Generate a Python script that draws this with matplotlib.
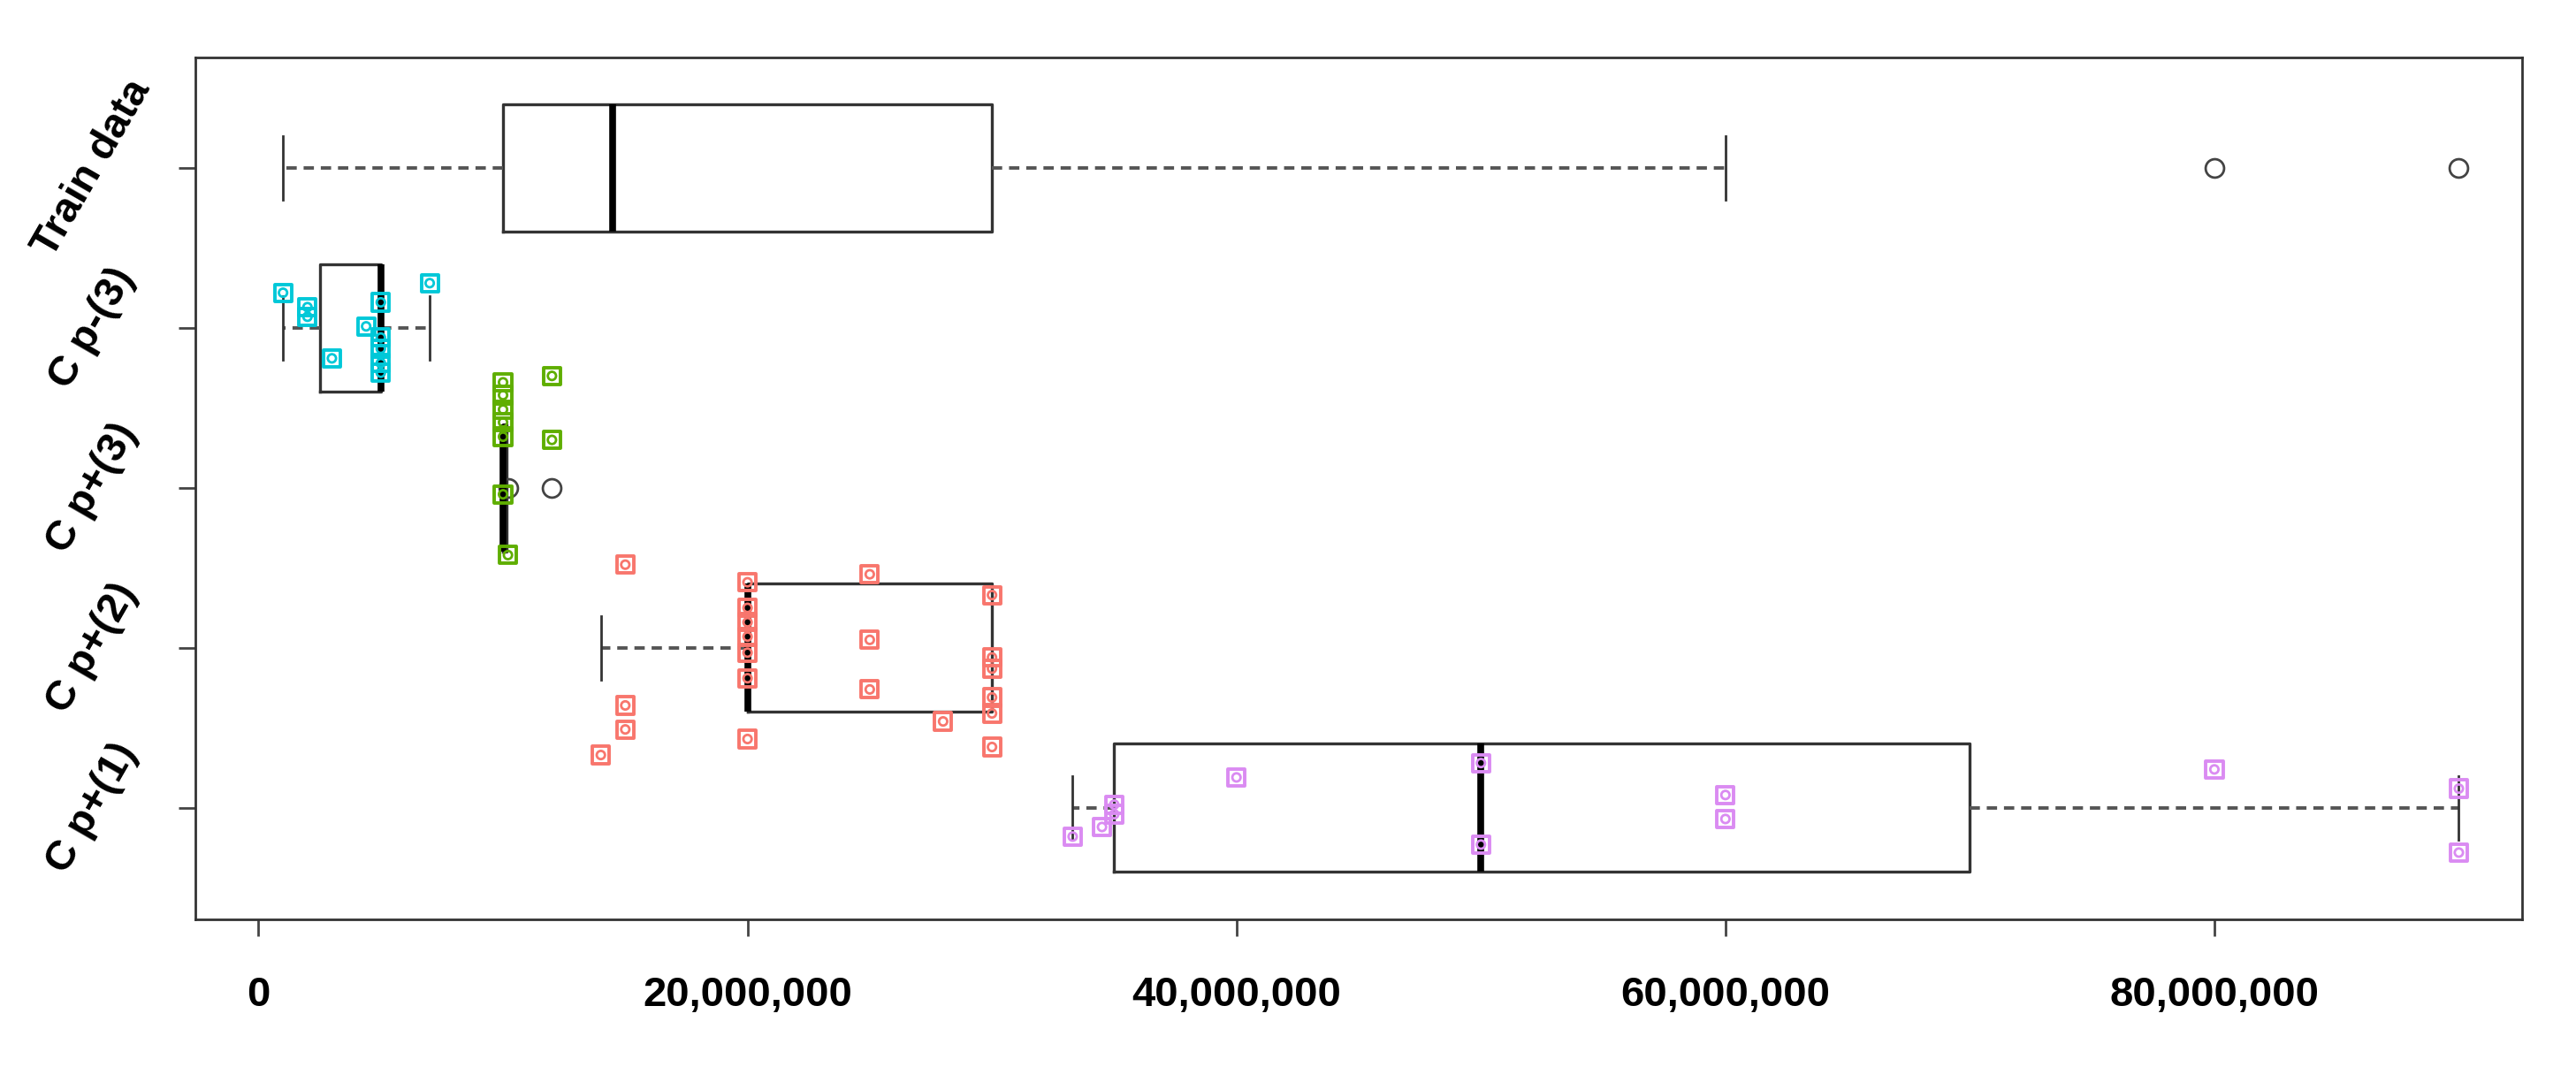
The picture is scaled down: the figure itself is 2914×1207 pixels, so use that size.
import matplotlib
matplotlib.use("Agg")
import matplotlib.pyplot as plt
from matplotlib.ticker import FuncFormatter

plt.rcParams['font.family'] = ['Liberation Sans', 'DejaVu Sans']

categories = ["C p+(1)", "C p+(2)", "C p+(3)", "C p-(3)", "Train data"]
# box stats (millions): whislo, q1, med, q3, whishi, fliers
whislo = [33.3, 14, 10, 1, 1]
q1 = [35, 20, 10, 2.5, 10]
med = [50, 20, 10, 5, 14.5]
q3 = [70, 30, 10.15, 5, 30]
whishi = [90, 30, 10.15, 7, 60]
fliers = [[], [], [10.2, 12], [], [80, 90]]

# jittered raw points: x (millions), vertical jitter (category units)
cp1_x = [33.3, 34.5, 35, 35, 40, 50, 50, 60, 60, 80, 90, 90]
cp1_j = [-0.18, -0.12, 0.02, -0.04, 0.19, 0.28, -0.23, 0.08, -0.07, 0.24, 0.12, -0.28]
cp2_x = [15, 15, 15, 14, 20, 20, 20, 20, 20, 20, 20, 25, 25, 25, 28, 30, 30, 30, 30, 30, 30]
cp2_j = [0.52, -0.36, -0.51, -0.67, 0.41, 0.25, 0.16, 0.07, -0.03, -0.19, -0.57, 0.46, 0.05, -0.26, -0.46, 0.33, -0.06, -0.13, -0.31, -0.41, -0.62]
cp3_x = [10, 10, 10, 10, 10, 10, 10.2, 12, 12]
cp3_j = [0.66, 0.58, 0.49, 0.41, 0.32, -0.04, -0.42, 0.70, 0.30]
cpm3_x = [1, 2, 2, 3, 4.4, 5, 5, 5, 5, 5, 7]
cpm3_j = [0.22, 0.13, 0.07, -0.19, 0.01, 0.16, -0.06, -0.13, -0.22, -0.28, 0.28]

point_sets = [(cp1_x, cp1_j, "#DA8BF2"), (cp2_x, cp2_j, "#F8766D"),
              (cp3_x, cp3_j, "#5FAE00"), (cpm3_x, cpm3_j, "#00C8D8")]

fig = plt.figure(figsize=(29.14, 12.07), dpi=100)
ax = fig.add_axes([0.0757, 0.138, 0.9035, 0.808])

stats = []
for i in range(5):
    stats.append(dict(whislo=whislo[i]*1e6, q1=q1[i]*1e6, med=med[i]*1e6, q3=q3[i]*1e6,
                      whishi=whishi[i]*1e6, fliers=[f*1e6 for f in fliers[i]], label=categories[i]))
pos = list(range(1, 6))
ax.bxp(stats, positions=pos, vert=False, widths=0.8, patch_artist=False,
       boxprops=dict(color="#333333", linewidth=2.4),
       medianprops=dict(color="black", linewidth=5.5),
       whiskerprops=dict(color="#555555", linewidth=2.8, linestyle=(0, (3, 2))),
       capprops=dict(color="#333333", linewidth=2),
       capwidths=0.4,
       flierprops=dict(marker="o", markerfacecolor="none", markeredgecolor="#444444",
                       markersize=15, markeredgewidth=2))

for (xs, js, col), p in zip(point_sets, [1, 2, 3, 4]):
    xv = [x*1e6 for x in xs]
    yv = [p + j for j in js]
    ax.scatter(xv, yv, marker="s", s=190, facecolors="none", edgecolors=col, linewidths=2.8, zorder=3)
    ax.scatter(xv, yv, marker="o", s=45, facecolors="none", edgecolors=col, linewidths=2, zorder=3)

ax.set_xlim(-2.6e6, 92.6e6)
ax.set_ylim(0.3, 5.69)
ax.set_xticks([0, 20e6, 40e6, 60e6, 80e6])
ax.xaxis.set_major_formatter(FuncFormatter(lambda v, p: f"{int(v):,}"))
ax.set_yticks(pos)
ax.set_yticklabels(categories, rotation=60, ha="center", va="center", rotation_mode="anchor")
ax.tick_params(axis="both", labelsize=34, width=2, length=14, color="#444444")
ax.tick_params(axis="x", pad=32)
ax.tick_params(axis="y", pad=70)
for lab in ax.get_xticklabels() + ax.get_yticklabels():
    lab.set_fontweight("bold")
for s in ax.spines.values():
    s.set_linewidth(2)
    s.set_color("#333333")

fig.savefig("out.png", dpi=100)
